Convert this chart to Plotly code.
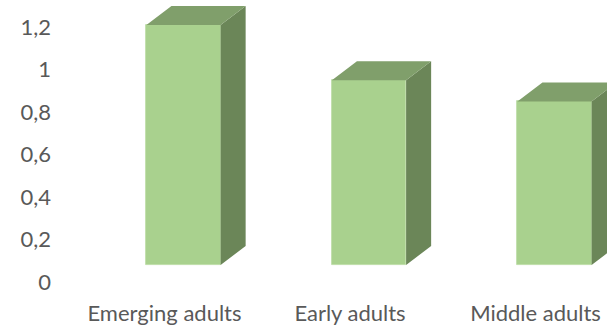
import plotly.graph_objects as go

categories = ["Emerging adults", "Early adults", "Middle adults"]
values = [1.13, 0.87, 0.77]
tick_vals = [0, 0.2, 0.4, 0.6, 0.8, 1.0, 1.2]
tick_text = ["0", "0,2", "0,4", "0,6", "0,8", "1", "1,2"]

FRONT = "#A9D18E"
TOP = "#809F6B"
SIDE = "#6B8658"
TEXT = "#595959"

W = 607
H = 325
ML, MB = 60, 43
bar_w = 0.4
dx = 0.135   # depth offset in x units
dy = 0.0894  # depth offset in y units

xpos = list(range(len(categories)))

side_x, side_y, top_x, top_y = [], [], [], []
for i, v in zip(xpos, values):
    r = i + bar_w / 2
    l = i - bar_w / 2
    side_x += [r, r + dx, r + dx, r, r, None]
    side_y += [0, dy, v + dy, v, 0, None]
    top_x += [l, l + dx, r + dx, r, l, None]
    top_y += [v, v + dy, v + dy, v, v, None]

fig = go.Figure()
fig.add_trace(go.Scatter(x=side_x, y=side_y, fill="toself", mode="lines",
                         line=dict(width=0), fillcolor=SIDE, hoverinfo="skip",
                         showlegend=False))
fig.add_trace(go.Scatter(x=top_x, y=top_y, fill="toself", mode="lines",
                         line=dict(width=0), fillcolor=TOP, hoverinfo="skip",
                         showlegend=False))
fig.add_trace(go.Bar(x=xpos, y=values, width=bar_w,
                     marker=dict(color=FRONT, line=dict(width=0.8, color="#B9DBA2")),
                     showlegend=False))

px_per_x = 185.5
x0 = -(183.5 - ML) / px_per_x
x1 = x0 + (W - ML) / px_per_x
px_per_y = 212.5
ymin = -17 / px_per_y
ymax = ymin + (H - MB) / px_per_y

fig.update_layout(
    width=W, height=H,
    margin=dict(l=ML, r=0, t=0, b=MB),
    paper_bgcolor="white", plot_bgcolor="white",
    font=dict(family="Lato", size=22, color=TEXT),
    bargap=0,
    xaxis=dict(range=[x0, x1], tickvals=xpos, ticktext=categories,
               showgrid=False, zeroline=False, showline=False, ticks="",
               ticklabelshift=-19, ticklabelstandoff=16),
    yaxis=dict(range=[ymin, ymax], tickvals=tick_vals, ticktext=tick_text,
               showgrid=False, zeroline=False, showline=False, ticks="",
               ticklabelshift=17, ticklabelstandoff=8),
)

fig.write_html("out.html")
